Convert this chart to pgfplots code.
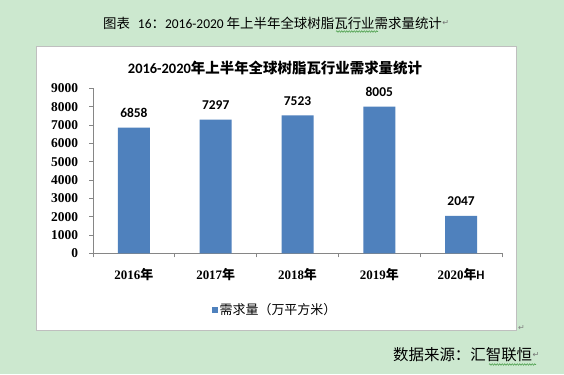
\documentclass[border=0pt]{standalone}
\usepackage{fontspec}
\usepackage{pgfplots}
\pgfplotsset{compat=1.18}
\usetikzlibrary{decorations.pathmorphing}
\setmainfont{Liberation Serif}
\newfontfamily\cjk{Noto Sans CJK SC}
\newfontfamily\calf{Carlito}
\newfontfamily\ser{Liberation Serif}
\newfontfamily\dv{DejaVu Sans}
\definecolor{bg}{RGB}{204,232,207}
\definecolor{barblue}{RGB}{79,129,189}
\definecolor{axgray}{RGB}{134,134,134}
\definecolor{wavy}{RGB}{60,150,60}
\newcommand\fs[1]{\fontsize{#1}{#1}\selectfont}
\newcommand\yr[1]{{\ser\bfseries #1}{\cjk\bfseries 年}}
\begin{document}
\begin{tikzpicture}[x=1bp,y=1bp]
\fill[bg] (0,0) rectangle (564,374);
\fill[white] (36,44) rectangle (516,328);
\draw[black!25, line width=0.8bp] (36,44) rectangle (516,328);
\node[anchor=center, inner sep=0pt] (t) at (272.5,350.6) {\fs{13.5}\cjk 图表\hspace{8bp}{\calf 16}：{\calf 2016-2020} 年上半年全球树脂瓦行业需求量统计};
\node[anchor=west, inner sep=0pt, text=black!55] at (t.east) {\dv\fs{8}↵};
\draw[wavy, line width=0.5bp, decorate, decoration={snake, amplitude=0.8bp, segment length=2.5bp}] (336,342.5) -- (378,342.5);
\node[anchor=center, inner sep=0pt] at (275,306) {\fs{14.5}{\calf\bfseries 2016-2020}{\cjk\bfseries 年上半年全球树脂瓦行业需求量统计}};
\node[anchor=west, inner sep=0pt] (s) at (393,19) {\fs{15.5}\cjk 数据来源：汇智联恒};
\node[anchor=west, inner sep=0pt, text=black!55] at (s.east) {\dv\fs{8}↵};
\draw[wavy, line width=0.5bp, decorate, decoration={snake, amplitude=0.8bp, segment length=2.5bp}] (489,9.5) -- (536,9.5);
\node[anchor=west, inner sep=0pt, text=black!50] at (518,46) {\dv\fs{8}↵};
\begin{axis}[
  at={(93bp,120.7bp)}, anchor=south west,
  scale only axis, width=409bp, height=165bp,
  xmin=-0.5, xmax=4.5, ymin=0, ymax=9000,
  enlargelimits=false,
  axis lines*=left,
  axis line style={axgray, line width=0.8bp},
  ybar, bar width=32bp,
  /pgf/number format/1000 sep={},
  /pgf/number format/assume math mode=true,
  scaled y ticks=false,
  tick align=outside,
  major tick length=4bp,
  ytick={0,1000,...,9000},
  ytick style={axgray, line width=0.8bp},
  yticklabel style={font=\ser\bfseries\fs{13.5}, inner sep=0pt, anchor=east, xshift=-10.7bp},
  xtick={0,1,2,3,4},
  xticklabels={\yr{2016},\yr{2017},\yr{2018},\yr{2019},{\yr{2020}{\calf\bfseries H}}},
  x tick style={draw=none},
  xticklabel style={font=\fs{13}, inner sep=0pt, anchor=base, yshift=-22bp},
  extra x ticks={-0.5,0.5,1.5,2.5,3.5,4.5},
  extra x tick labels={},
  extra x tick style={x tick style={draw=axgray, line width=0.8bp}},
  nodes near coords={\pgfmathprintnumber[1000 sep={}]{\pgfplotspointmeta}},
  nodes near coords style={font=\calf\bfseries\fs{13.5}, anchor=south, inner sep=0pt, yshift=10bp, text=black},
  legend style={at={(0.445,-0.344)}, anchor=center, draw=none, fill=none, font=\fs{13}, inner sep=0pt},
  legend image code/.code={\fill[barblue] (0bp,-3bp) rectangle (6bp,3bp);},
]
\addplot[fill=barblue, draw=none] coordinates {(0,6858) (1,7297) (2,7523) (3,8005) (4,2047)};
\addlegendentry{\cjk 需求量（万平方米）}
\end{axis}
\end{tikzpicture}
\end{document}
